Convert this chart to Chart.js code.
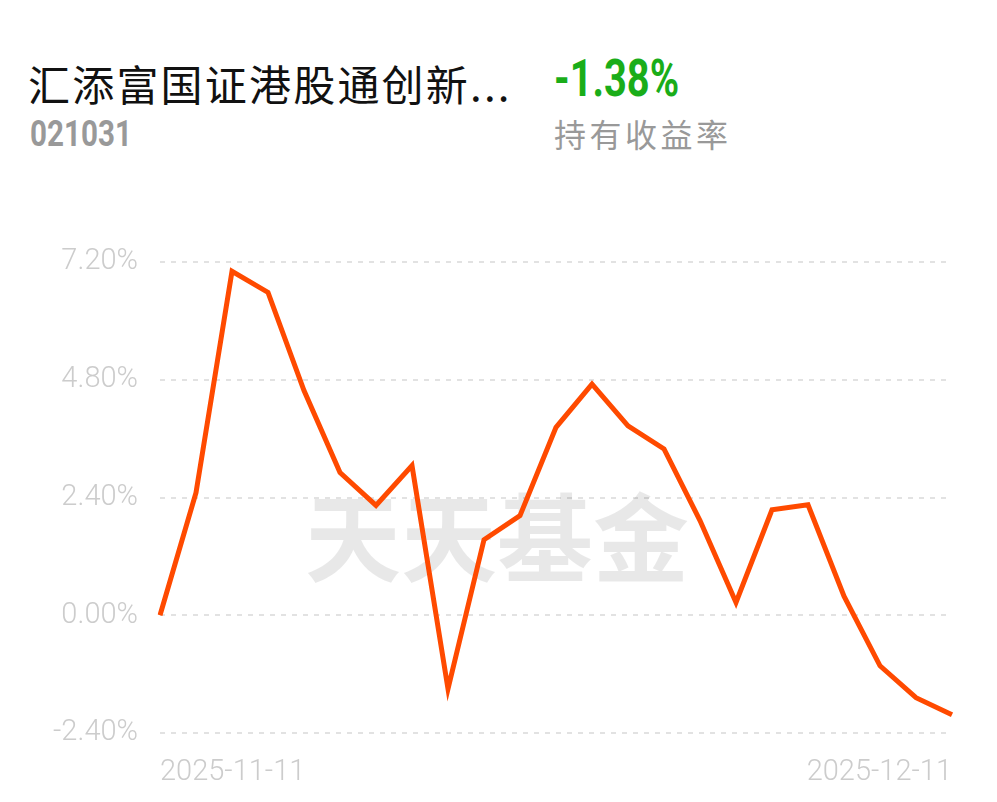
<!DOCTYPE html>
<html><head><meta charset="utf-8">
<script src="https://cdn.jsdelivr.net/npm/chart.js@4/dist/chart.umd.min.js"></script>
<style>
html,body{margin:0;padding:0;background:#fff;width:997px;height:802px;overflow:hidden;font-family:Roboto,"Noto Sans CJK SC",sans-serif;}
#wrap{position:absolute;left:0;top:0;width:997px;height:802px;}
.t{position:absolute;white-space:nowrap;}
#name{left:28px;top:52px;font-size:42px;color:#111;letter-spacing:2.2px;font-family:"Noto Sans CJK SC",sans-serif;}
#code{left:30px;top:112px;font-size:37px;color:#999;font-weight:bold;transform:scaleX(0.8);transform-origin:left top;}
#ret{left:554px;top:49px;font-size:51px;color:#1aad19;font-weight:bold;transform:scaleX(0.78);transform-origin:left top;}
#lbl{left:554px;top:110px;font-size:32px;color:#999;letter-spacing:3.5px;font-family:"Noto Sans CJK SC",sans-serif;}
</style></head>
<body>
<div class="t" id="name">汇添富国证港股通创新...</div>
<div class="t" id="code">021031</div>
<div class="t" id="ret">-1.38%</div>
<div class="t" id="lbl">持有收益率</div>
<div id="wrap"><canvas id="c" width="997" height="802"></canvas></div>
<script>
const dates = ["2025-11-11","2025-11-12","2025-11-13","2025-11-14","2025-11-17","2025-11-18","2025-11-19","2025-11-20","2025-11-21","2025-11-24","2025-11-25","2025-11-26","2025-11-27","2025-11-28","2025-12-01","2025-12-02","2025-12-03","2025-12-04","2025-12-05","2025-12-08","2025-12-09","2025-12-10","2025-12-11"];
const returns = [0.00,2.50,7.01,6.58,4.58,2.91,2.24,3.05,-1.50,1.54,2.03,3.83,4.71,3.86,3.39,1.93,0.26,2.15,2.25,0.39,-1.03,-1.68,-2.03];
const yTicks = [-2.4,0,2.4,4.8,7.2];
const watermark = "天天基金";

const wmPlugin = {
  id:'wm',
  beforeDatasetsDraw(chart){
    const {ctx} = chart;
    ctx.save();
    ctx.font = 'bold 96px "Noto Sans CJK SC"';
    ctx.fillStyle = 'rgba(0,0,0,0.09)';
    ctx.textAlign = 'center';
    ctx.textBaseline = 'middle';
    ctx.fillText(watermark, 497, 538);
    ctx.restore();
  }
};

new Chart(document.getElementById('c'), {
  type:'line',
  data:{labels:dates, datasets:[{data:returns, borderColor:'#ff4a00', borderWidth:5, pointRadius:0, tension:0, fill:false, borderJoinStyle:'miter'}]},
  options:{
    responsive:false, animation:false,
    layout:{padding:{top:262,right:45,left:0,bottom:0}},
    plugins:{legend:{display:false}, tooltip:{enabled:false}},
    scales:{
      x:{
        grid:{display:false}, border:{display:false},
        ticks:{autoSkip:false, maxRotation:0, align:'inner', padding:14, color:'#cccccc', font:{size:29, family:'Roboto', weight:300},
          callback:(v,i)=> (i===0||i===dates.length-1)? dates[i] : ''},
        afterFit(s){ s.height = 69; }
      },
      y:{
        min:-2.4, max:7.2,
        afterBuildTicks(s){ s.ticks = yTicks.map(v=>({value:v})); },
        grid:{color:'#e2e2e2', lineWidth:2, drawTicks:false},
        border:{display:false, dash:[5,6]},
        ticks:{padding:22, color:'#cccccc', font:{size:29, family:'Roboto', weight:300}, callback:v=>v.toFixed(2)+'%'},
        afterFit(s){ s.width = 160; }
      }
    }
  },
  plugins:[wmPlugin]
});
</script>
</body></html>
